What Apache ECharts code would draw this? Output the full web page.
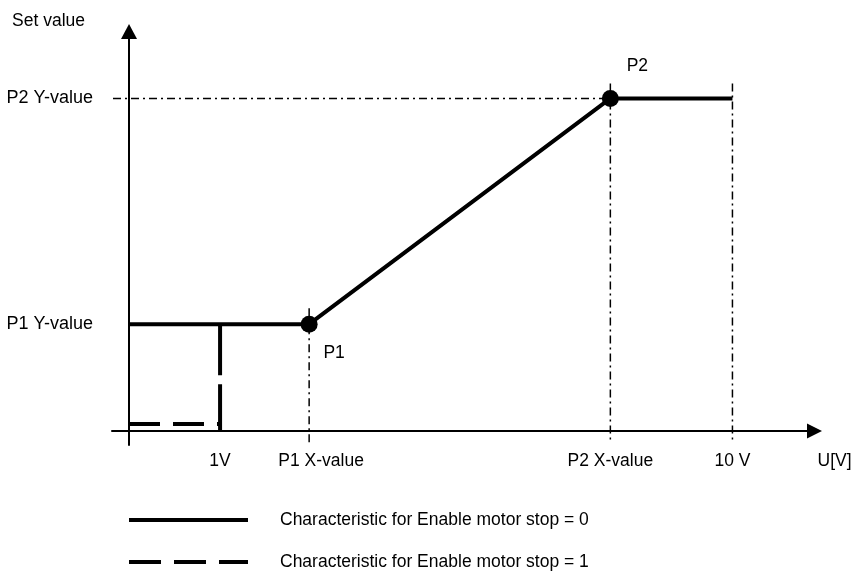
<!DOCTYPE html>
<html>
<head>
<meta charset="utf-8">
<script src="https://cdn.jsdelivr.net/npm/echarts@6/dist/echarts.min.js"></script>
<style>
  html, body { margin: 0; padding: 0; background: #fff; }
  #main { width: 856px; height: 574px; }
</style>
</head>
<body>
<div id="main"></div>
<script>
// schematic units (not to scale)
var xTickValues = [9.1, 18.0, 48.1, 60.3];
var xTickLabels = ["1V", "P1 X-value", "P2 X-value", "10 V"];
var yTickValues = [10.7, 33.3];
var yTickLabels = ["P1 Y-value", "P2 Y-value"];

// characteristic, enable motor stop = 0
var stop0X = [0, 18.0, 48.1, 60.3];
var stop0Y = [10.7, 10.7, 33.3, 33.3];
// characteristic, enable motor stop = 1 (two pieces)
var stop1LowX = [0, 9.1];
var stop1LowY = [0.7, 0.7];
var stop1JumpX = [9.1, 9.1];
var stop1JumpY = [10.7, 0];

// points P1, P2
var pointNames = ["P1", "P2"];
var pointX = [18.0, 48.1];
var pointY = [10.7, 33.3];

// dash-dot guides: [x1, y1, x2, y2]
var guideP2Y = [-1.6, 33.3, 48.1, 33.3];
var guideP1X = [18.0, 12.3, 18.0, -1.2];
var guideP2X = [48.1, 34.8, 48.1, -1.2];
var guide10V = [60.3, 34.8, 60.3, -1.2];

var name0 = "Characteristic for Enable motor stop = 0";
var name1 = "Characteristic for Enable motor stop = 1";

function pairs(xs, ys) {
  return xs.map(function (x, i) { return [x, ys[i]]; });
}

var font = "'Liberation Sans', Arial, sans-serif";
var fs = 17.5;
var dashDot = [8, 4, 2, 4];

var guideSeries = [guideP2Y, guideP1X, guideP2X, guide10V].map(function (g) {
  return {
    type: "line",
    silent: true,
    symbol: "none",
    lineStyle: { color: "#000", width: 1.5, type: dashDot },
    data: [[g[0], g[1]], [g[2], g[3]]],
    z: 1
  };
});

var labelOffsets = [[25, 29], [27, -32]];

// legend icons: solid bar and dashed bar
var iconSolid = "path://M0,0h119v4h-119z";
var iconDashed = "path://M0,0h32v4h-32z M45,0h32v4h-32z M90,0h29v4h-29z";

function legendRow(name, icon, top) {
  return {
    data: [{ name: name, icon: icon }],
    orient: "vertical",
    left: 129,
    top: top,
    padding: 0,
    itemWidth: 119,
    itemHeight: 4,
    selectedMode: false,
    itemStyle: { color: "#000" },
    textStyle: { fontSize: fs, color: "#000", fontFamily: font, padding: [0, 0, 0, 27] }
  };
}

var chart = echarts.init(document.getElementById("main"));
chart.setOption({
  animation: false,
  backgroundColor: "#fff",
  textStyle: { fontFamily: font, color: "#000" },
  grid: {
    left: 112,
    right: 41.5,
    top: 31.5,
    bottom: 129,
    outerBoundsMode: "none"
  },
  legend: [
    legendRow(name0, iconSolid, 511),
    legendRow(name1, iconDashed, 553)
  ],
  xAxis: {
    type: "value",
    min: -1.7,
    max: 68.5,
    name: "U[V]",
    nameLocation: "end",
    nameGap: 3,
    nameTextStyle: {
      fontSize: fs, color: "#000", fontFamily: font,
      align: "left", verticalAlign: "top", padding: [21, 0, 0, 0]
    },
    axisLine: {
      onZero: true,
      symbol: ["none", "triangle"],
      symbolSize: [15, 15],
      lineStyle: { color: "#000", width: 2 }
    },
    axisTick: { show: false },
    splitLine: { show: false },
    axisLabel: {
      customValues: xTickValues,
      margin: 7,
      fontSize: fs,
      color: "#000",
      fontFamily: font,
      formatter: function (v) {
        var i = xTickValues.indexOf(v);
        if (i < 0) return "";
        if (i === 1) return "{p1|" + xTickLabels[i] + "}";
        return xTickLabels[i];
      },
      rich: { p1: { padding: [0, 0, 0, 24], fontSize: fs, fontFamily: font, color: "#000" } }
    }
  },
  yAxis: {
    type: "value",
    min: -1.4,
    max: 40,
    name: "Set value",
    nameLocation: "end",
    nameGap: 1,
    nameTextStyle: {
      fontSize: fs, color: "#000", fontFamily: font,
      align: "right", verticalAlign: "bottom", padding: [0, 44, 0, 0]
    },
    axisLine: {
      onZero: true,
      symbol: ["none", "triangle"],
      symbolSize: [16, 15],
      lineStyle: { color: "#000", width: 2 }
    },
    axisTick: { show: false },
    splitLine: { show: false },
    axisLabel: {
      customValues: yTickValues,
      margin: 19,
      fontSize: 18,
      color: "#000",
      fontFamily: font,
      formatter: function (v) {
        var i = yTickValues.indexOf(v);
        return i < 0 ? "" : yTickLabels[i];
      }
    }
  },
  series: guideSeries.concat([
    {
      name: name0,
      type: "line",
      symbol: "none",
      lineStyle: { color: "#000", width: 4 },
      itemStyle: { color: "#000" },
      data: pairs(stop0X, stop0Y),
      z: 3
    },
    {
      name: name1,
      type: "line",
      symbol: "none",
      lineStyle: { color: "#000", width: 4, type: [31, 13] },
      itemStyle: { color: "#000" },
      data: pairs(stop1LowX, stop1LowY),
      z: 3
    },
    {
      name: name1,
      type: "line",
      symbol: "none",
      lineStyle: { color: "#000", width: 4, type: [51, 9] },
      itemStyle: { color: "#000" },
      data: pairs(stop1JumpX, stop1JumpY),
      z: 3
    },
    {
      type: "scatter",
      symbol: "circle",
      symbolSize: 17,
      itemStyle: { color: "#000", opacity: 1 },
      z: 4,
      data: pointNames.map(function (n, i) {
        return {
          name: n,
          value: [pointX[i], pointY[i]],
          label: {
            show: true,
            position: "inside",
            offset: labelOffsets[i],
            formatter: n,
            fontSize: fs,
            color: "#000",
            opacity: 1,
            fontFamily: font
          }
        };
      })
    }
  ])
});
</script>
</body>
</html>
